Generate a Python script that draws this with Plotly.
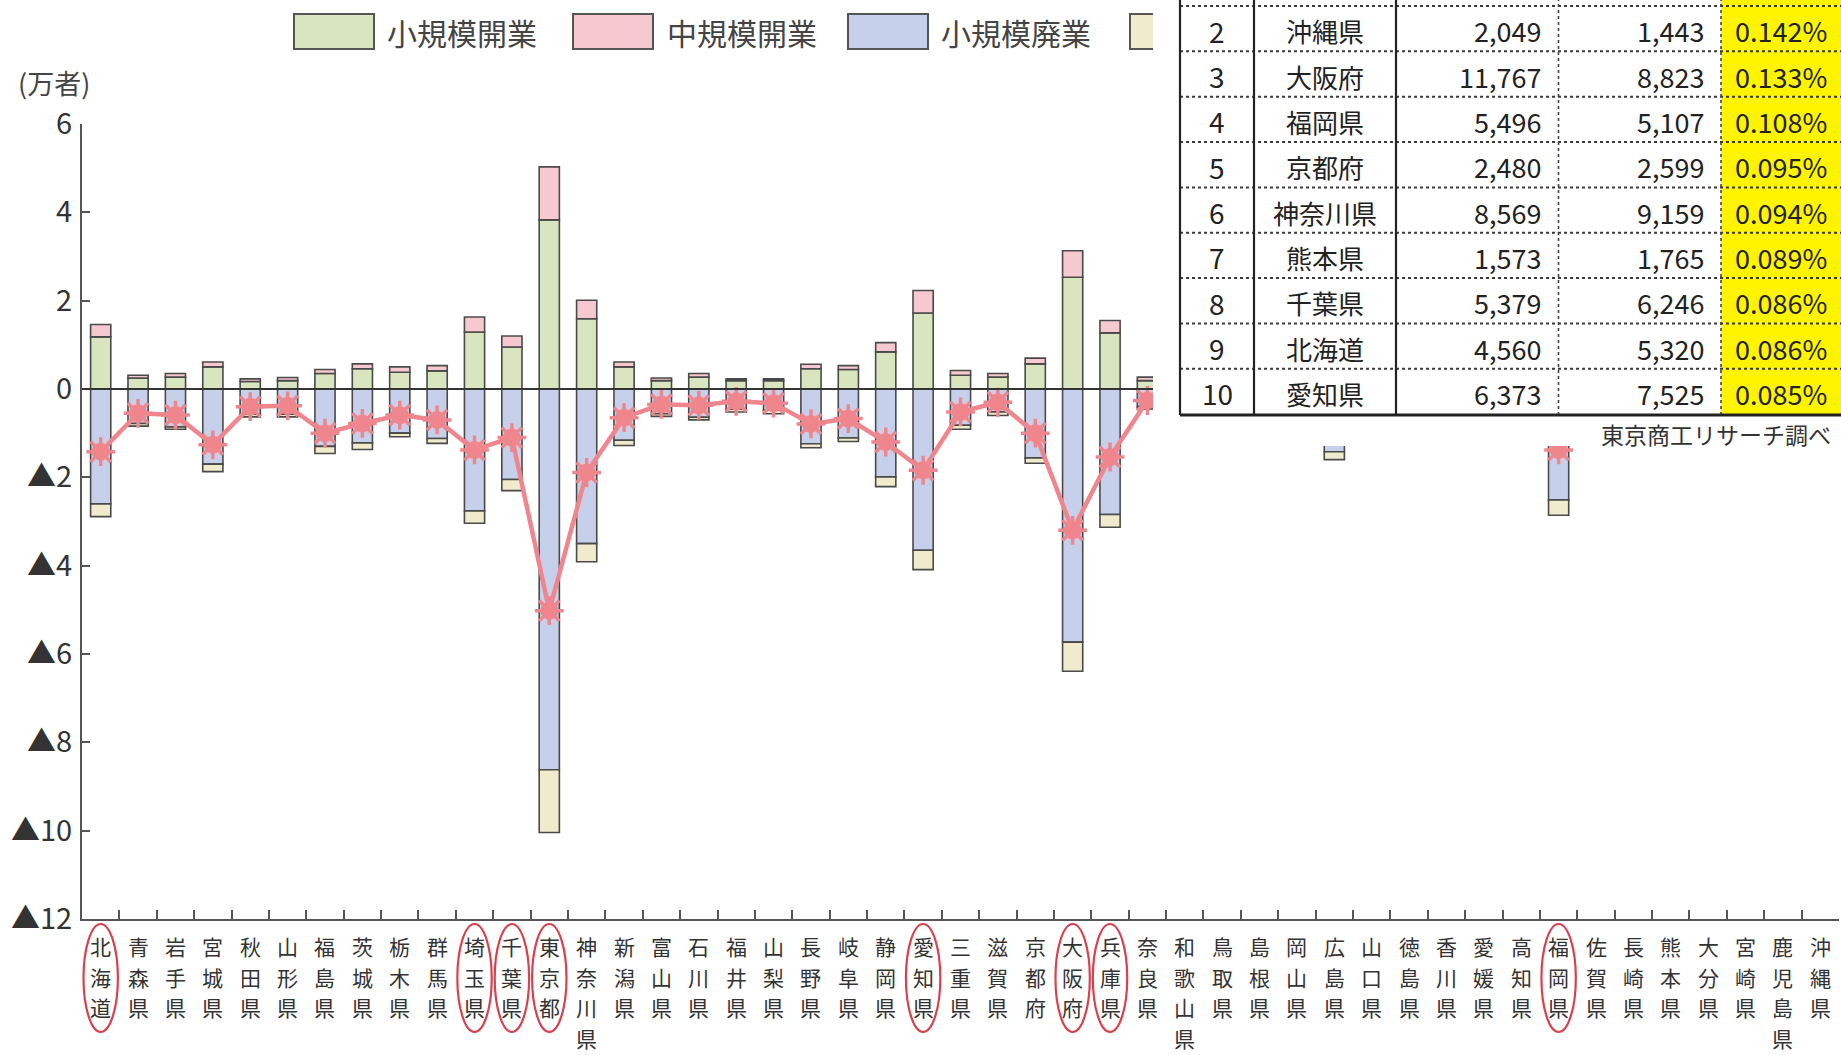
import plotly.graph_objects as go

# ---- data (万者) ----
prefectures = [
    "北海道", "青森県", "岩手県", "宮城県", "秋田県", "山形県", "福島県", "茨城県",
    "栃木県", "群馬県", "埼玉県", "千葉県", "東京都", "神奈川県", "新潟県", "富山県",
    "石川県", "福井県", "山梨県", "長野県", "岐阜県", "静岡県", "愛知県", "三重県",
    "滋賀県", "京都府", "大阪府", "兵庫県", "奈良県", "和歌山県", "鳥取県", "島根県",
    "岡山県", "広島県", "山口県", "徳島県", "香川県", "愛媛県", "高知県", "福岡県",
    "佐賀県", "長崎県", "熊本県", "大分県", "宮崎県", "鹿児島県", "沖縄県",
]
small_open = [
    1.18, 0.25, 0.27, 0.50, 0.17, 0.19, 0.35, 0.46, 0.38, 0.41, 1.29, 0.95, 3.83, 1.59,
    0.50, 0.19, 0.27, 0.19, 0.19, 0.46, 0.44, 0.84, 1.72, 0.31, 0.27, 0.57, 2.53, 1.27,
    0.19, 0.20, 0.10, 0.10, 0.45, 0.70, 0.28, 0.15, 0.22, 0.32, 0.15, 1.20, 0.15, 0.25,
    0.36, 0.22, 0.22, 0.35, 0.35,
]
mid_open = [
    0.28, 0.06, 0.08, 0.11, 0.06, 0.07, 0.09, 0.11, 0.12, 0.12, 0.34, 0.25, 1.20, 0.42,
    0.11, 0.06, 0.08, 0.04, 0.04, 0.10, 0.09, 0.21, 0.51, 0.11, 0.08, 0.13, 0.60, 0.28,
    0.08, 0.05, 0.03, 0.03, 0.10, 0.15, 0.06, 0.04, 0.05, 0.06, 0.03, 0.28, 0.03, 0.05,
    0.07, 0.05, 0.04, 0.06, 0.07,
]
small_close = [
    -2.60, -0.78, -0.86, -1.70, -0.57, -0.57, -1.30, -1.22, -1.00, -1.12, -2.76, -2.05,
    -8.62, -3.50, -1.16, -0.56, -0.64, -0.46, -0.48, -1.24, -1.11, -1.99, -3.65, -0.82,
    -0.52, -1.56, -5.73, -2.84, -0.40, -0.55, -0.30, -0.35, -0.95, -1.42, -0.70, -0.42,
    -0.52, -0.75, -0.42, -2.51, -0.40, -0.70, -0.80, -0.60, -0.58, -0.95, -0.50,
]
mid_close = [
    -0.29, -0.06, -0.05, -0.17, -0.06, -0.06, -0.16, -0.15, -0.08, -0.11, -0.28, -0.25,
    -1.42, -0.41, -0.12, -0.06, -0.06, -0.06, -0.08, -0.09, -0.08, -0.22, -0.44, -0.09,
    -0.08, -0.12, -0.66, -0.29, -0.05, -0.07, -0.04, -0.04, -0.12, -0.18, -0.08, -0.05,
    -0.06, -0.08, -0.05, -0.35, -0.05, -0.08, -0.10, -0.07, -0.06, -0.10, -0.06,
]
net_change = [
    -1.42, -0.55, -0.59, -1.26, -0.40, -0.38, -1.00, -0.78, -0.59, -0.70, -1.38, -1.10,
    -5.02, -1.89, -0.65, -0.35, -0.37, -0.28, -0.32, -0.79, -0.67, -1.20, -1.84, -0.52,
    -0.30, -1.00, -3.20, -1.54, -0.26, -0.37, -0.21, -0.26, -0.52, -0.75, -0.44, -0.28,
    -0.31, -0.45, -0.29, -1.38, -0.27, -0.48, -0.47, -0.40, -0.38, -0.64, -0.14,
]
circled = ["北海道", "埼玉県", "千葉県", "東京都", "愛知県", "大阪府", "兵庫県", "福岡県"]

y_ticks = [6, 4, 2, 0, -2, -4, -6, -8, -10, -12]
y_tick_text = ["6", "4", "2", "0", "▲2", "▲4", "▲6", "▲8", "▲10", "▲12"]

series_names = ["小規模開業", "中規模開業", "小規模廃業", "中規模廃業"]
series_colors = ["#D8E5BF", "#F6C8D0", "#C6D0EB", "#EFEBCC"]

# ranking table (東京商工リサーチ)
table_rank = ["2", "3", "4", "5", "6", "7", "8", "9", "10"]
table_pref = ["沖縄県", "大阪府", "福岡県", "京都府", "神奈川県", "熊本県", "千葉県", "北海道", "愛知県"]
table_col_a = ["2,049", "11,767", "5,496", "2,480", "8,569", "1,573", "5,379", "4,560", "6,373"]
table_col_b = ["1,443", "8,823", "5,107", "2,599", "9,159", "1,765", "6,246", "5,320", "7,525"]
table_rate = ["0.142%", "0.133%", "0.108%", "0.095%", "0.094%", "0.089%", "0.086%", "0.086%", "0.085%"]

# ---- layout geometry (pixels) ----
W, H = 1841, 1055
PL, PR, PT, PB = 82, 1839, 124, 919


def px(x):
    return (x - PL) / (PR - PL)


def py(y):
    return (PB - y) / (PB - PT)


def cat_center(i):
    return (i + 0.5) / len(prefectures)


CJK = "Noto Sans CJK JP"
EDGE = "#4a4a4a"

fig = go.Figure()

for vals, name, color in zip([small_open, mid_open, small_close, mid_close], series_names, series_colors):
    fig.add_trace(go.Bar(
        x=prefectures, y=vals, name=name, width=0.54,
        marker=dict(color=color, line=dict(color=EDGE, width=1.6)),
        showlegend=False,
    ))

LINE_C = "#F0868D"
fig.add_trace(go.Scatter(
    x=prefectures, y=net_change, mode="lines+markers", name="増減",
    line=dict(color=LINE_C, width=4.5),
    marker=dict(symbol="circle", size=18, color=LINE_C),
    showlegend=False,
))
fig.add_trace(go.Scatter(
    x=prefectures, y=net_change, mode="markers", name="増減",
    marker=dict(symbol="asterisk-open", size=24, color=LINE_C,
                line=dict(color=LINE_C, width=3.5)),
    showlegend=False, hoverinfo="skip",
))

shapes = []
annotations = []

# zero line across the plot
shapes.append(dict(type="line", xref="paper", yref="y", x0=0, x1=1, y0=0, y1=0,
                   line=dict(color="#333333", width=2), layer="above"))

# legend row
legend_box_x = [294, 573, 848, 1130]
legend_text_x = [385, 665, 939, None]
for bx, tx, name, color in zip(legend_box_x, legend_text_x, series_names, series_colors):
    shapes.append(dict(type="rect", xref="paper", yref="paper",
                       x0=px(bx), x1=px(bx + 80), y0=py(49), y1=py(14),
                       fillcolor=color, line=dict(color="#555555", width=2), layer="above"))
    if tx is not None:
        annotations.append(dict(xref="paper", yref="paper", x=px(tx), y=py(32),
                                xanchor="left", yanchor="middle", showarrow=False,
                                text=name, font=dict(family=CJK, size=30, color="#444444")))

# white panel holding the ranking table
shapes.append(dict(type="rect", xref="paper", yref="paper",
                   x0=px(1153), x1=px(W + 5), y0=py(446), y1=py(-5),
                   fillcolor="white", line=dict(width=0), layer="above"))

TL, TR = 1180, W + 5
row_lines = [6 + 45.35 * j for j in range(9)]
T_BOTTOM = 415
shapes.append(dict(type="rect", xref="paper", yref="paper",
                   x0=px(1721), x1=px(TR), y0=py(T_BOTTOM), y1=py(-5),
                   fillcolor="#FFF400", line=dict(width=0), layer="above"))
for yl in row_lines:
    shapes.append(dict(type="line", xref="paper", yref="paper",
                       x0=px(TL), x1=px(TR), y0=py(yl), y1=py(yl),
                       line=dict(color="#3a3a3a", width=2, dash="dot"), layer="above"))
for xl in [TL, 1254, 1396]:
    shapes.append(dict(type="line", xref="paper", yref="paper",
                       x0=px(xl), x1=px(xl), y0=py(T_BOTTOM), y1=py(-5),
                       line=dict(color="#222222", width=2.2), layer="above"))
for xl in [1558.5, 1721]:
    shapes.append(dict(type="line", xref="paper", yref="paper",
                       x0=px(xl), x1=px(xl), y0=py(T_BOTTOM), y1=py(-5),
                       line=dict(color="#444444", width=1.6, dash="dot"), layer="above"))
shapes.append(dict(type="line", xref="paper", yref="paper",
                   x0=px(TL), x1=px(TR), y0=py(T_BOTTOM), y1=py(T_BOTTOM),
                   line=dict(color="#222222", width=3), layer="above"))

NUM_FONT = dict(family=CJK, size=27, color="#222222")
for k in range(len(table_rank)):
    yc = py(row_lines[k] + 45.35 / 2 + 2)
    annotations.append(dict(xref="paper", yref="paper", x=px(1217), y=yc, xanchor="center",
                            yanchor="middle", showarrow=False, text=table_rank[k],
                            font=dict(family=CJK, size=28, color="#222222")))
    annotations.append(dict(xref="paper", yref="paper", x=px(1325), y=yc, xanchor="center",
                            yanchor="middle", showarrow=False, text=table_pref[k],
                            font=dict(family=CJK, size=26, color="#222222")))
    annotations.append(dict(xref="paper", yref="paper", x=px(1543), y=yc, xanchor="right",
                            yanchor="middle", showarrow=False, text=table_col_a[k],
                            font=NUM_FONT))
    annotations.append(dict(xref="paper", yref="paper", x=px(1706), y=yc, xanchor="right",
                            yanchor="middle", showarrow=False, text=table_col_b[k],
                            font=NUM_FONT))
    annotations.append(dict(xref="paper", yref="paper", x=px(1829), y=yc, xanchor="right",
                            yanchor="middle", showarrow=False, text=table_rate[k],
                            font=NUM_FONT))

annotations.append(dict(xref="paper", yref="paper", x=px(1833), y=py(434), xanchor="right",
                        yanchor="middle", showarrow=False, text="東京商工リサーチ調べ",
                        font=dict(family=CJK, size=23, color="#333333")))

# unit label
annotations.append(dict(xref="paper", yref="paper", x=px(16), y=py(82), xanchor="left",
                        yanchor="middle", showarrow=False, text="(万者)",
                        font=dict(family=CJK, size=27, color="#444444")))

# prefecture names written vertically, one character per line
CHAR_PITCH = 30.5
FIRST_CHAR_Y = 946
for name in prefectures:
    for j, ch in enumerate(name):
        annotations.append(dict(xref="x", yref="paper", x=name, y=py(FIRST_CHAR_Y + j * CHAR_PITCH),
                                xanchor="center", yanchor="middle", showarrow=False, text=ch,
                                font=dict(family=CJK, size=21, color="#333333")))

# red rings around highlighted prefecture names
for name in circled:
    i = prefectures.index(name)
    c = cat_center(i)
    half = 0.46 / len(prefectures)
    shapes.append(dict(type="circle", xref="paper", yref="paper",
                       x0=c - half, x1=c + half, y0=py(1032), y1=py(924),
                       line=dict(color="#D9414E", width=2.2), layer="above"))

fig.update_layout(
    width=W, height=H,
    margin=dict(l=PL, r=W - PR, t=PT, b=H - PB),
    plot_bgcolor="white", paper_bgcolor="white",
    barmode="relative", bargap=0.46,
    shapes=shapes, annotations=annotations,
    font=dict(family=CJK, color="#333333"),
)
fig.update_xaxes(
    type="category", range=[-0.5, len(prefectures) - 0.5],
    showticklabels=False,
    showline=True, linecolor="#555555", linewidth=2,
    ticks="inside", ticklen=9, tickcolor="#555555", tickwidth=1.5,
    tickson="boundaries", showgrid=False, zeroline=False,
)
fig.update_yaxes(
    range=[-12, 6], tickmode="array", tickvals=y_ticks, ticktext=y_tick_text,
    tickfont=dict(family=CJK, size=29, color="#333333"),
    showline=True, linecolor="#555555", linewidth=2,
    ticks="inside", ticklen=8, tickcolor="#555555", tickwidth=1.5,
    showgrid=False, zeroline=False, ticklabelstandoff=2,
)

fig.write_html("out.html")
